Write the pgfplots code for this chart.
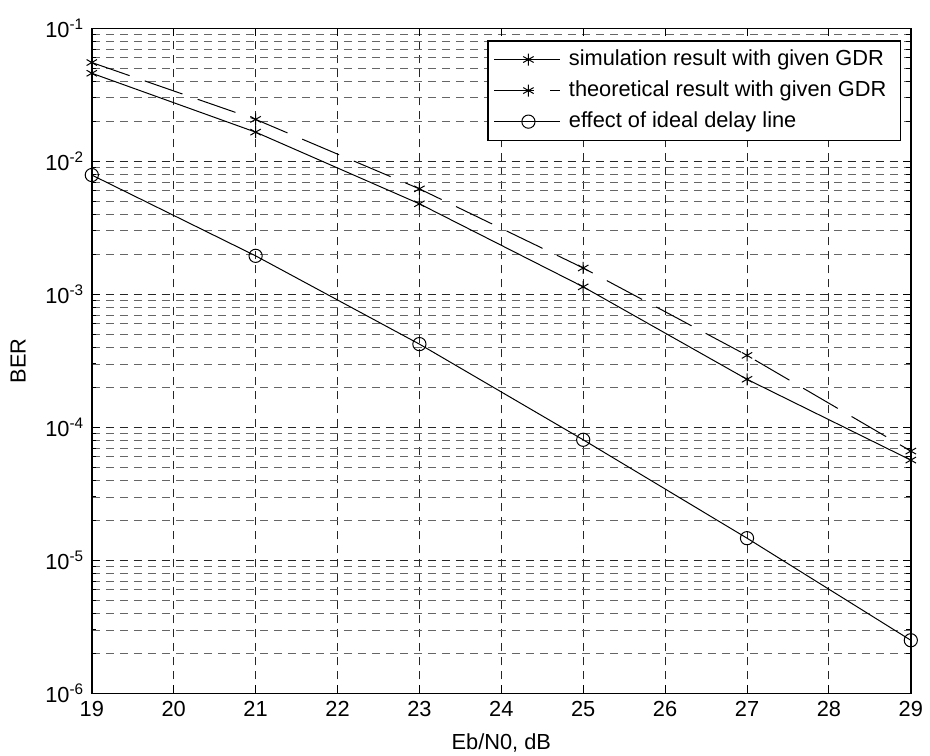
\documentclass[border=0pt]{standalone}
\usepackage{fontspec}
\setmainfont{Liberation Sans}
\usepackage{pgfplots}
\pgfplotsset{compat=1.18}

\pgfplotsset{
  mlegend/.style={legend image code/.code={
    \draw[##1] (0pt,0pt) -- (33pt,0pt);
    \draw[##1,solid] plot coordinates {(17pt,0pt)};
  }},
}

\begin{document}
\fontsize{10.9}{12.5}\selectfont
\begin{tikzpicture}
\useasboundingbox (-45.9pt,-30.8pt) rectangle (419.1pt,346.7pt);
\begin{axis}[
  scale only axis,
  width=409.5pt, height=332.5pt,
  ymode=log,
  xmin=19, xmax=29,
  ymin=1e-6, ymax=1e-1,
  xtick={19,20,...,29},
  ytick={1e-6,1e-5,1e-4,1e-3,1e-2,1e-1},
  yticklabels={10\textsuperscript{-6},10\textsuperscript{-5},10\textsuperscript{-4},10\textsuperscript{-3},10\textsuperscript{-2},10\textsuperscript{-1}},
  xticklabel style={/pgf/number format/assume math mode=true},
  tick align=inside, tick pos=both,
  major tick length=4pt, minor tick length=2.2pt,
  axis line style={line width=0.8pt},
  every tick/.style={black, line width=0.5pt},
  xmajorgrids, ymajorgrids, yminorgrids,
  major grid style={black!85, line width=0.45pt, dash pattern=on 4pt off 3pt},
  minor grid style={black!60, line width=0.45pt, dash pattern=on 4pt off 3pt},
  xlabel={Eb/N0, dB},
  ylabel={BER},
  xlabel style={at={(axis description cs:0.5,-0.075)}, anchor=center},
  ylabel style={at={(axis description cs:-0.09,0.5)}, anchor=center, rotate=0},
  clip mode=individual,
  legend cell align=left,
  legend style={at={(0.988,0.982)}, anchor=north east, draw=black,
    line width=0.6pt, fill=white, inner xsep=3pt, inner ysep=3pt,
    row sep=3pt, nodes={inner ysep=1.5pt, inner xsep=4pt}},
  mlegend,
]
\addplot[black, line width=0.5pt, mark=asterisk, mark size=3pt, mark options={solid}]
  coordinates {(19,0.046) (21,0.0166) (23,0.0048) (25,1.14e-3) (27,2.30e-4) (29,5.68e-5)};
\addlegendentry{simulation result with given GDR}
\addplot[black, line width=0.5pt, dash pattern=on 20pt off 8pt, mark=asterisk, mark size=3pt, mark options={solid}]
  coordinates {(19,0.0554) (21,0.0207) (23,0.00622) (25,1.58e-3) (27,3.48e-4) (29,6.64e-5)};
\addlegendentry{theoretical result with given GDR}
\addplot[black, line width=0.5pt, mark=o, mark size=3.3pt, mark options={solid}]
  coordinates {(19,7.9e-3) (21,1.95e-3) (23,4.23e-4) (25,8.07e-5) (27,1.47e-5) (29,2.51e-6)};
\addlegendentry{effect of ideal delay line}
\end{axis}
\end{tikzpicture}
\end{document}
